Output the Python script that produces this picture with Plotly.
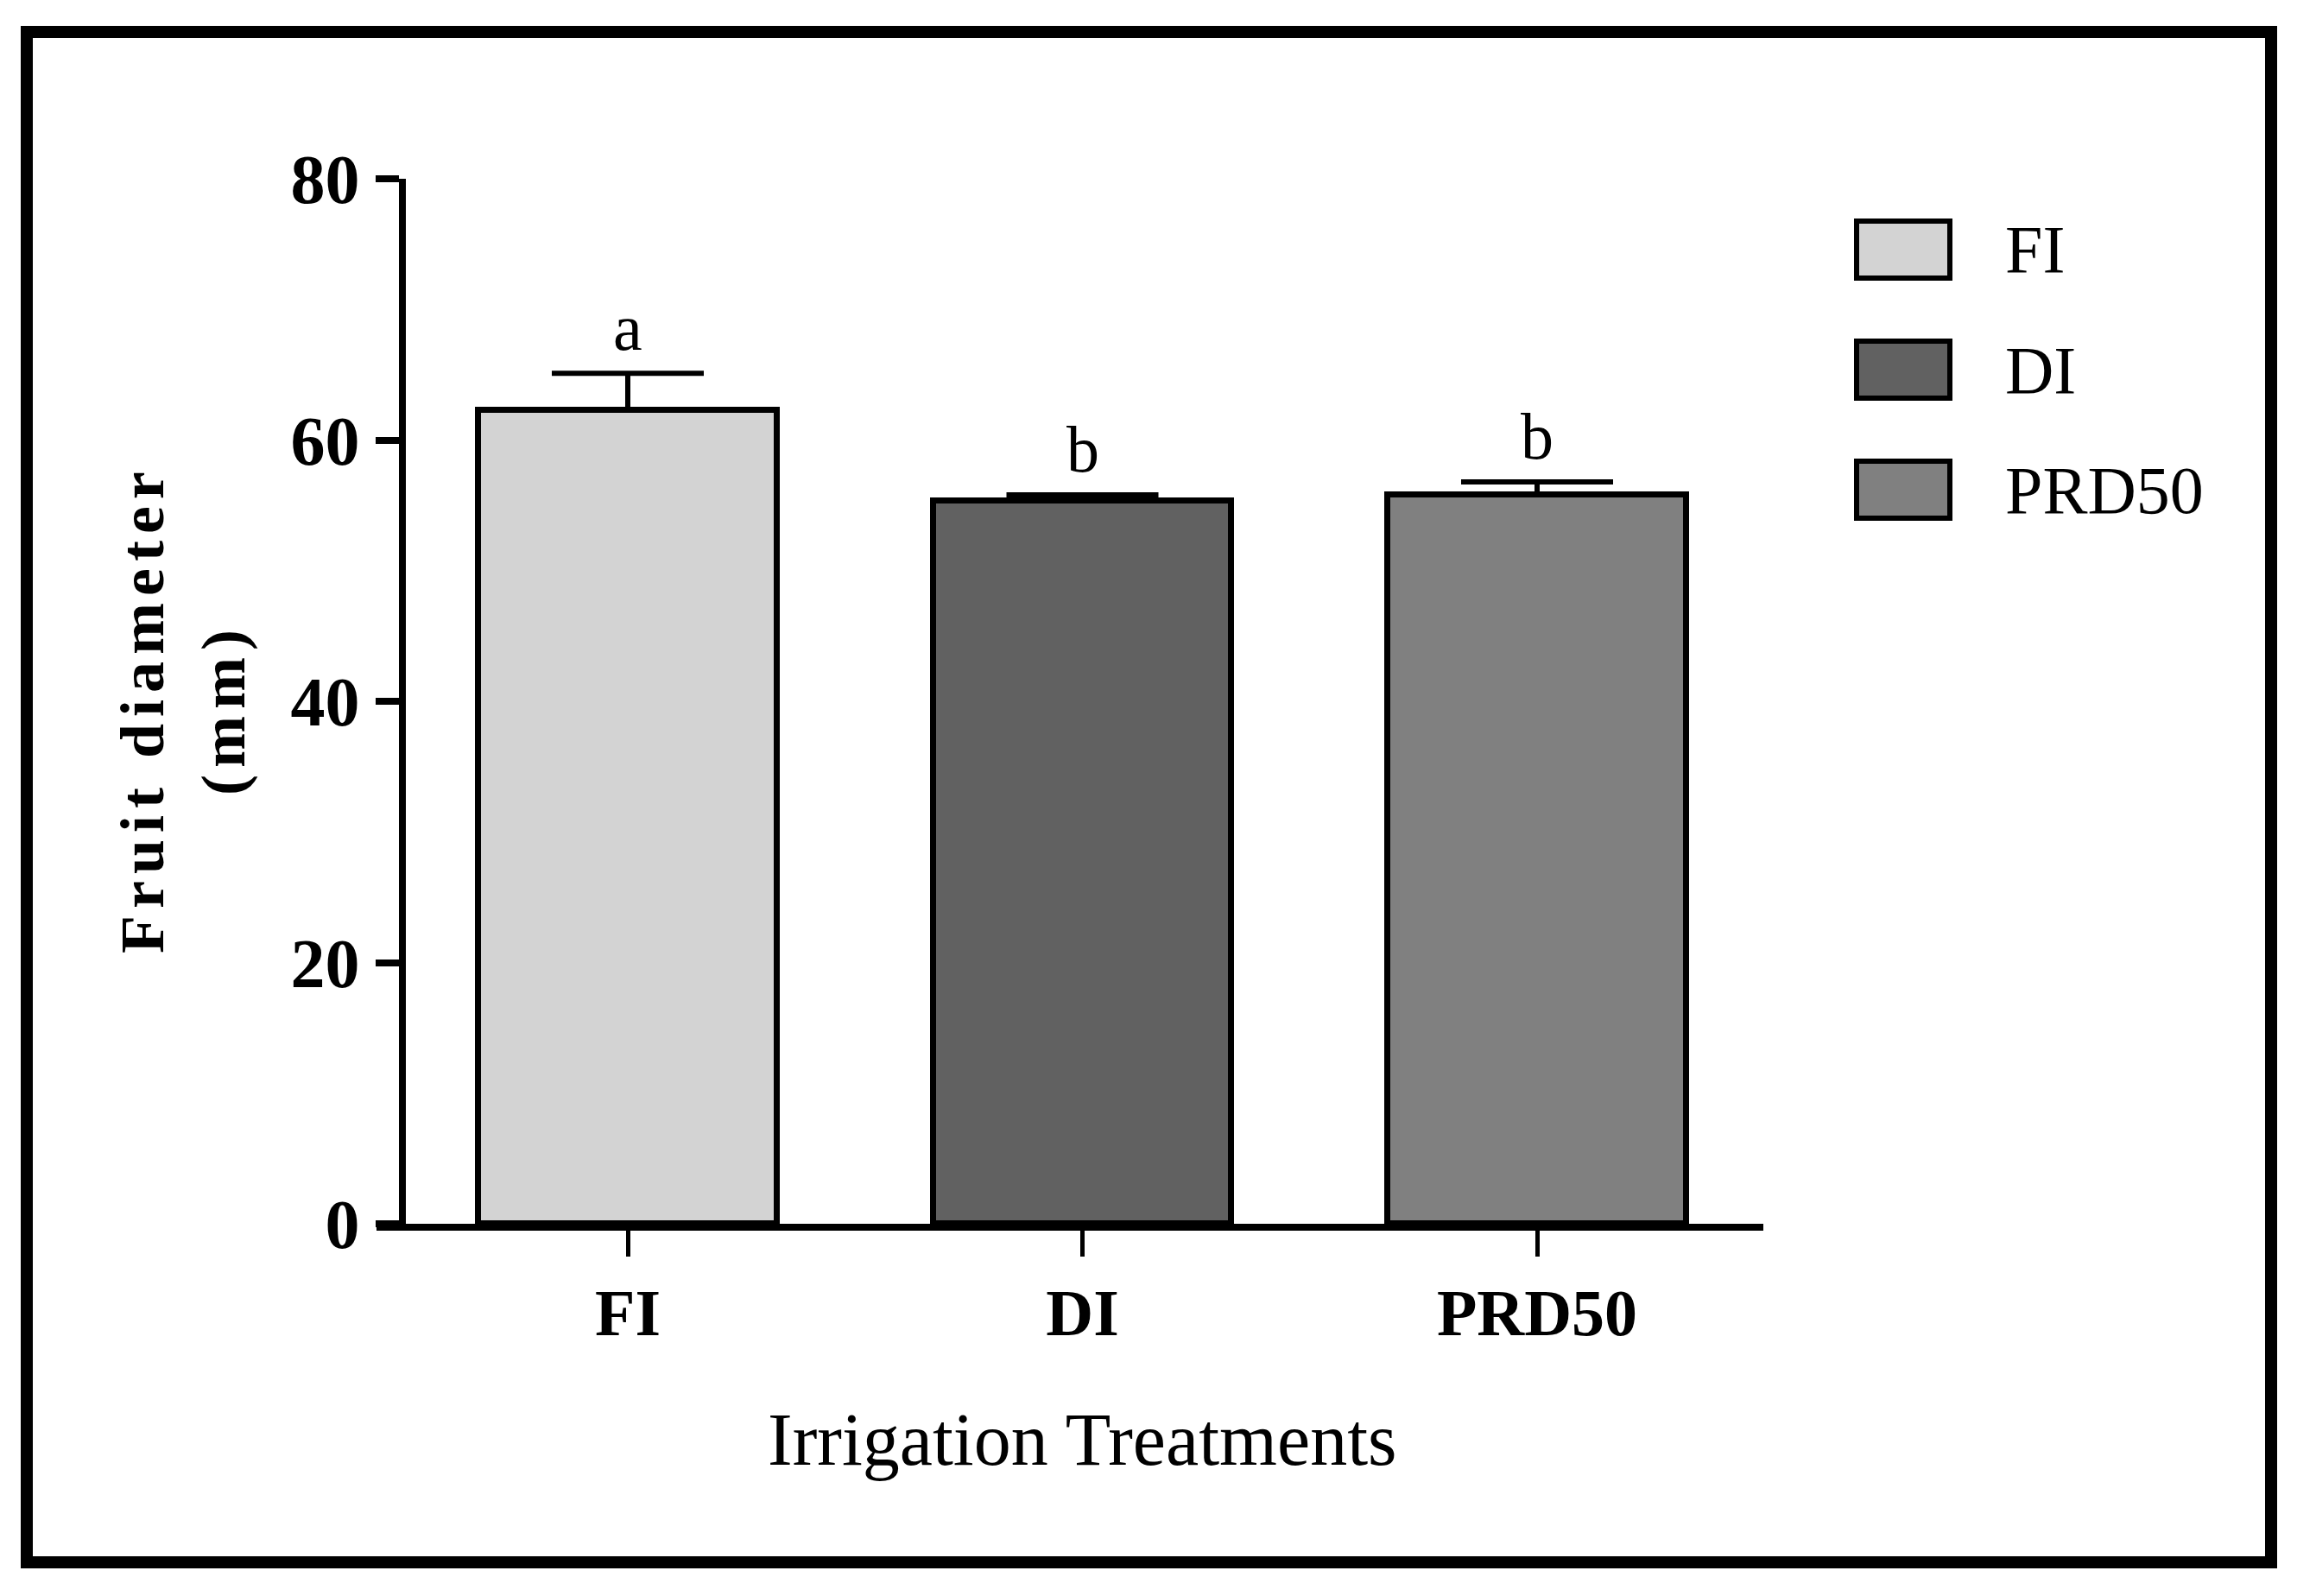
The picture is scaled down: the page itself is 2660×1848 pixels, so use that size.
import plotly.graph_objects as go

categories = ["FI", "DI", "PRD50"]
means = [62.3, 55.35, 55.8]
errors = [2.8, 0.45, 1.0]
letters = ["a", "b", "b"]
colors = ["#d3d3d3", "#616161", "#808080"]
y_ticks = [0, 20, 40, 60, 80]

W, H = 2660, 1848
L, R, T, B = 436, 618, 207, 431
PW, PH = W - L - R, H - T - B
FONT = "Liberation Serif"


def px_x(x):
    return (x - L) / PW


def px_y(y):
    return (H - B - y) / PH


fig = go.Figure()
fig.add_trace(go.Bar(
    x=categories, y=means, width=0.657,
    marker=dict(color=colors, line=dict(color="black", width=7)),
    error_y=dict(type="data", symmetric=False, array=errors,
                 arrayminus=[0] * len(errors), color="black",
                 thickness=6, width=88),
    showlegend=False,
))

annotations = []
for c, m, e, l in zip(categories, means, errors, letters):
    annotations.append(dict(x=c, y=m + e, xref="x", yref="y", text=l,
                            showarrow=False, yanchor="bottom", yshift=9,
                            font=dict(family=FONT, size=76, color="black")))

# y-axis title (two lines, bold, letter-spaced)
annotations.append(dict(
    x=px_x(212), y=px_y(821), xref="paper", yref="paper",
    text='<span style="letter-spacing:8px"><b>Fruit diameter</b><br><b>(mm)</b></span>',
    textangle=-90, showarrow=False, xanchor="center", yanchor="middle",
    font=dict(family=FONT, size=72, color="black")))
# x-axis title
annotations.append(dict(x=px_x(1253), y=px_y(1667), xref="paper", yref="paper",
                        text="Irrigation Treatments", showarrow=False,
                        xanchor="center", yanchor="middle",
                        font=dict(family=FONT, size=86, color="black")))

shapes = []
# outer border
shapes.append(dict(type="rect", xref="paper", yref="paper",
                   x0=px_x(31), x1=px_x(2630), y0=px_y(37), y1=px_y(1809),
                   line=dict(color="black", width=14), fillcolor="rgba(0,0,0,0)"))

# legend
leg_top = [256, 395, 534]
for c, col, t in zip(categories, colors, leg_top):
    shapes.append(dict(type="rect", xref="paper", yref="paper",
                       x0=px_x(2150), x1=px_x(2258), y0=px_y(t), y1=px_y(t + 66),
                       line=dict(color="black", width=6), fillcolor=col))
    annotations.append(dict(x=px_x(2320), y=px_y(t + 33), xref="paper", yref="paper",
                            text=c, showarrow=False, xanchor="left", yanchor="middle",
                            font=dict(family=FONT, size=78, color="black")))

fig.update_layout(
    width=W, height=H,
    margin=dict(l=L, r=R, t=T, b=B),
    paper_bgcolor="white", plot_bgcolor="white",
    font=dict(family=FONT, color="black"),
    xaxis=dict(range=[-0.5527, 2.4976], showgrid=False, zeroline=False,
               showline=True, linecolor="black", linewidth=8,
               ticks="outside", ticklen=30, tickwidth=5, tickcolor="black",
               ticklabelstandoff=0,
               tickfont=dict(family=FONT, size=76, color="black", weight="bold")),
    yaxis=dict(range=[0, 80], tickvals=y_ticks, showgrid=False, zeroline=False,
               anchor="free", position=29.5 / PW,
               showline=True, linecolor="black", linewidth=8,
               ticks="outside", ticklen=27, tickwidth=8, tickcolor="black",
               ticklabelstandoff=2,
               tickfont=dict(family=FONT, size=80, color="black", weight="bold")),
    annotations=annotations,
    shapes=shapes,
    bargap=0,
)

fig.write_html("out.html", config={"displayModeBar": False},
               post_script="document.body.style.margin='0';")
